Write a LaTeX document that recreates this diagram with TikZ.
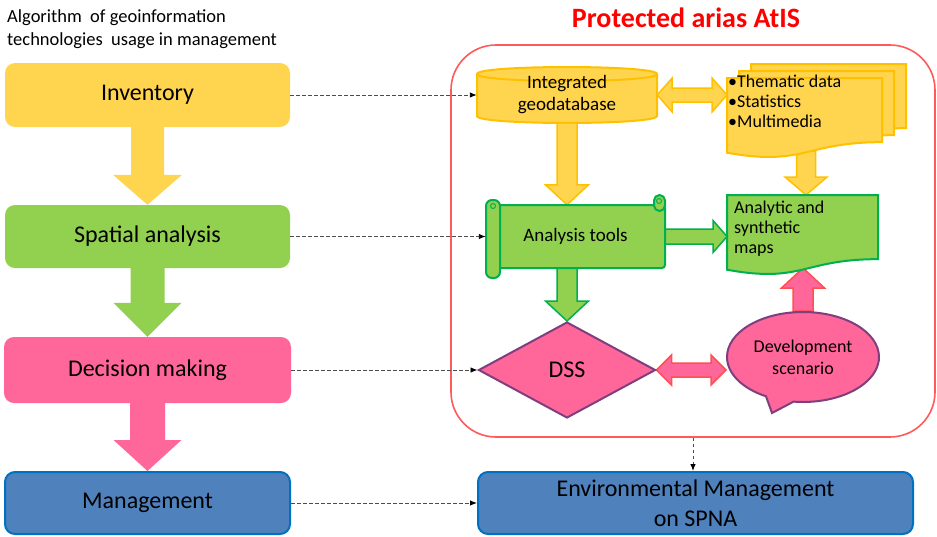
\documentclass[tikz,border=0pt]{standalone}
\usepackage{fontspec}
\setmainfont{Carlito}
\usetikzlibrary{arrows.meta,calc,shapes.geometric,shapes.callouts,backgrounds}

\definecolor{yelfill}{HTML}{FFD54F}
\definecolor{yeledge}{HTML}{FFC000}
\definecolor{grnfill}{HTML}{92D050}
\definecolor{grnedge}{HTML}{00B050}
\definecolor{pnkfill}{HTML}{FF6699}
\definecolor{pnkedge}{HTML}{FF5050}
\definecolor{plmedge}{HTML}{7F3F7F}
\definecolor{blufill}{HTML}{4F81BD}
\definecolor{bluedge}{HTML}{0070C0}
\definecolor{redline}{HTML}{FF5A5A}

\tikzset{
  stagebox/.style={rectangle, rounded corners=10pt, minimum width=285pt, minimum height=64pt, inner sep=2pt, font=\fontsize{24}{29}\selectfont},
  dashlink/.style={draw=black!70, dash pattern=on 3.5pt off 2.5pt, line width=0.9pt, -{Latex[length=7pt,width=5.5pt,black]}},
  yelshape/.style={fill=yelfill, draw=yeledge, line width=2pt},
  grnshape/.style={fill=grnfill, draw=grnedge, line width=2pt},
  pnkshape/.style={fill=pnkfill, draw=plmedge, line width=2pt},
  bluebox/.style={fill=blufill, draw=bluedge, line width=2pt, rounded corners=10pt},
  smalltext/.style={font=\fontsize{18}{20}\selectfont}
}

% block arrow: style, from, to, shaft half width, head half width, head length
\newcommand{\blockarrow}[6]{%
  \coordinate (ba-h) at ($(#3)!#6!(#2)$);
  \draw[#1, line join=miter] ($(#2)!#4!90:(#3)$) -- ($(ba-h)!#4!90:(#3)$) -- ($(ba-h)!#5!90:(#3)$) -- (#3)
    -- ($(ba-h)!#5!-90:(#3)$) -- ($(ba-h)!#4!-90:(#3)$) -- ($(#2)!#4!-90:(#3)$) -- cycle;}
\newcommand{\dblarrow}[6]{%
  \coordinate (ba-h) at ($(#3)!#6!(#2)$);
  \coordinate (ba-t) at ($(#2)!#6!(#3)$);
  \draw[#1, line join=miter] (#2) -- ($(ba-t)!#5!90:(#3)$) -- ($(ba-t)!#4!90:(#3)$) -- ($(ba-h)!#4!90:(#3)$)
    -- ($(ba-h)!#5!90:(#3)$) -- (#3) -- ($(ba-h)!#5!-90:(#3)$) -- ($(ba-h)!#4!-90:(#3)$)
    -- ($(ba-t)!#4!-90:(#3)$) -- ($(ba-t)!#5!-90:(#3)$) -- cycle;}
% document shape: style, left, top, right, height
\newcommand{\docshape}[5]{%
  \draw[#1] (#2,#3) -- (#4,#3) -- (#4,{#3+0.802*#5}) .. controls ({(#2+#4)/2},{#3+0.802*#5}) and ({(#2+#4)/2},{#3+1.107*#5}) .. (#2,{#3+0.934*#5}) -- cycle;}

\begin{document}
\begin{tikzpicture}[x=1pt,y=-1pt]
\useasboundingbox (0,0) rectangle (937,536);

% left column
\node[anchor=north west, align=left, inner sep=1pt, font=\fontsize{18.5}{23}\selectfont] (hdr) at (6,8) {Algorithm~ of geoinformation\\technologies~ usage in management};
\node[stagebox, fill=yelfill] (inv) at (147.5,95) {Inventory};
\node[stagebox, fill=grnfill, minimum height=63pt] (spa) at (147.5,236.5) {Spatial analysis};
\node[stagebox, fill=pnkfill, minimum height=66pt, minimum width=287pt] (dec) at (147.5,370) {Decision making};
\node[stagebox, bluebox, minimum height=62pt] (mgt) at (147.5,503) {Management};

% protected areas frame
\node[draw=redline, line width=1.6pt, rounded corners=45pt, minimum width=484pt, minimum height=392pt] (pa) at (693,241) {};
\node[text=red, font=\bfseries\fontsize{28}{32}\selectfont] (ttl) at (686,18) {Protected arias AtIS};

% geodatabase cylinder
\draw[yelshape] (477,74) -- (477,116) .. controls (477,125.3) and (657,125.3) .. (657,116) -- (657,74) .. controls (657,64.7) and (477,64.7) .. (477,74) -- cycle;
\draw[yelshape] (477,74) .. controls (477,83.3) and (657,83.3) .. (657,74);
\node[minimum width=180pt, minimum height=56pt, align=center, font=\fontsize{19}{22}\selectfont] (gdb) at (567,95) {Integrated\\geodatabase};

% data documents
\docshape{yelshape}{751}{64}{906}{80}
\docshape{yelshape}{739}{71}{894}{80}
\docshape{yelshape}{727}{78}{882}{80}
\node[anchor=north west, inner sep=1pt, align=left, smalltext] (data) at (727,74) {•Thematic data\\•Statistics\\•Multimedia};

% analysis tools scroll
\draw[grnshape, rounded corners=3pt] (493,205) rectangle (665,268);
\draw[grnshape, rounded corners=6pt] (486,200) rectangle (500,278);
\draw[grnshape, rounded corners=5.5pt] (654,195) rectangle (665,211);
\draw[grnedge, line width=1pt] (493,206) circle (2.5) (659,201) circle (2.5);
\node[minimum width=179pt, minimum height=63pt, font=\fontsize{19}{22}\selectfont] (tools) at (575.5,236.5) {Analysis tools};

% maps document
\docshape{grnshape}{727}{195}{878}{80}
\node[anchor=north west, inner xsep=7pt, inner ysep=6pt, align=left, smalltext] (maps) at (727,195) {Analytic and\\synthetic\\maps};

% decision support
\node[diamond, pnkshape, minimum width=177pt, minimum height=96pt, inner sep=0pt, font=\fontsize{24}{28}\selectfont] (dss) at (567,370) {DSS};
\node[ellipse callout, pnkshape, callout absolute pointer={(772,413)}, callout pointer arc=22, minimum width=152pt, minimum height=90pt, inner sep=0pt, align=center, font=\fontsize{18}{22}\selectfont] (scen) at (803,357) {Development\\scenario};

% result
\node[bluebox, minimum width=435pt, minimum height=62pt, align=center, font=\fontsize{24}{30}\selectfont] (env) at (695.5,503) {Environmental Management\\on SPNA};

% dashed links
\draw[dashlink] (inv.east) -- (gdb.west);
\draw[dashlink] (spa.east) -- (spa.east -| tools.west);
\draw[dashlink] (dec.east) -- (dss.west);
\draw[dashlink] (mgt.east) -- (env.west);
\draw[dashlink] (pa.south) -- (pa.south |- env.north);

% block arrows
\coordinate (datab) at (806,151);
\coordinate (mapsb) at (806,268);
\coordinate (gdbt) at (gdb.south |- tools.north);
\coordinate (datal) at (gdb.east -| data.west);
\coordinate (datat) at (datab |- maps.north);
\coordinate (toolr) at (tools.east -| maps.west);
\coordinate (toolb) at (dss.north |- tools.south);
\coordinate (dssr) at (dss.east -| scen.west);
\coordinate (scent) at (scen.north |- mapsb);
\begin{scope}[on background layer]
\blockarrow{fill=yelfill, draw=none}{inv.south}{spa.north}{16.5pt}{34.5pt}{30pt}
\blockarrow{fill=grnfill, draw=none}{spa.south}{dec.north}{17pt}{34pt}{34pt}
\blockarrow{fill=pnkfill, draw=none}{dec.south}{mgt.north}{17.5pt}{34pt}{31pt}
\blockarrow{yelshape, line width=1.5pt}{gdb.south}{gdbt}{10pt}{21.5pt}{20pt}
\dblarrow{yelshape, line width=1.5pt}{gdb.east}{datal}{7pt}{17pt}{15pt}
\blockarrow{yelshape, line width=1.5pt}{datab}{datat}{9.5pt}{21pt}{18pt}
\blockarrow{grnshape, line width=1.5pt}{tools.east}{toolr}{7.5pt}{16pt}{14pt}
\blockarrow{grnshape, line width=1.5pt}{toolb}{dss.north}{10pt}{21.5pt}{20pt}
\dblarrow{fill=pnkfill, draw=pnkedge, line width=1.5pt}{dss.east}{dssr}{7pt}{15pt}{15pt}
\blockarrow{fill=pnkfill, draw=pnkedge, line width=1.5pt}{scen.north}{scent}{10pt}{21.5pt}{20pt}
\end{scope}
\end{tikzpicture}
\end{document}
